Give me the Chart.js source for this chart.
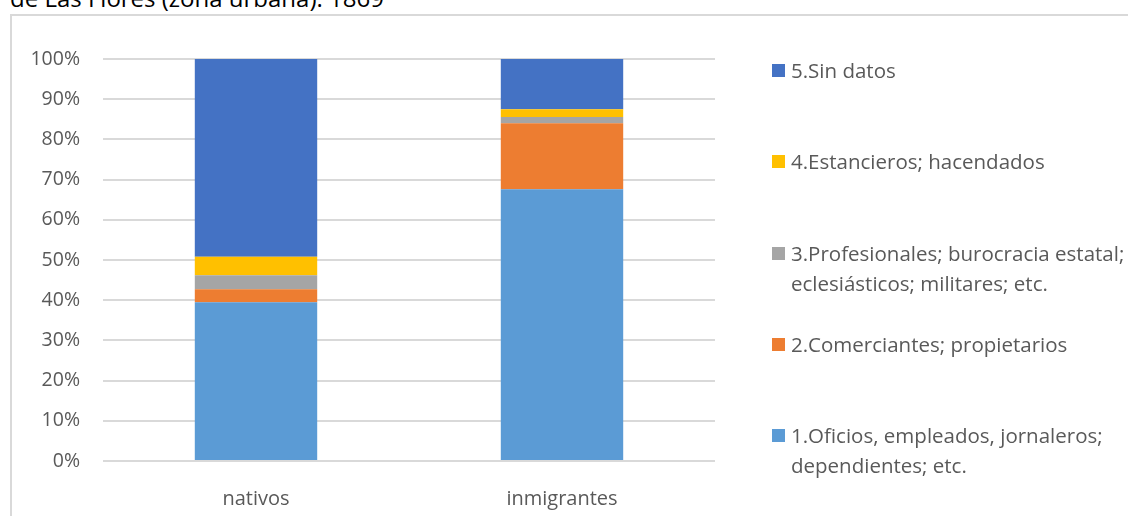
<!DOCTYPE html>
<html>
<head>
<meta charset="utf-8">
<script src="https://cdn.jsdelivr.net/npm/chart.js@4"></script>
<style>
  html, body { margin: 0; padding: 0; background: #fff; overflow: hidden; }
  body { width: 1128px; height: 516px; position: relative; font-family: "Open Sans", "Noto Sans", sans-serif; }
  #frame { position: absolute; left: 10px; top: 14px; width: 1300px; height: 700px; border: 2px solid #d9d9d9; box-sizing: border-box; }
  #title { position: absolute; left: 10px; top: -14px; font-size: 24px; line-height: 24px; color: #000; white-space: nowrap; }
  #wrap { position: absolute; left: 0; top: 0; width: 1128px; height: 516px; }
  #legend { position: absolute; left: 0; top: 0; }
  .item { position: absolute; left: 772px; font-size: 20.5px; line-height: 30px; color: #595959; white-space: nowrap; }
  .box { position: absolute; left: 0; width: 13px; height: 13px; }
  .txt { position: absolute; left: 19px; top: 0; }
</style>
</head>
<body>
<div id="frame"></div>
<div id="title">de Las Flores (zona urbana). 1869</div>
<div id="wrap"><canvas id="c" width="1128" height="516"></canvas></div>
<div id="legend"></div>
<script>
const categories = ['nativos', 'inmigrantes'];
const seriesNames = [
  ['1.Oficios, empleados, jornaleros;', 'dependientes; etc.'],
  ['2.Comerciantes; propietarios'],
  ['3.Profesionales; burocracia estatal;', 'eclesiásticos; militares; etc.'],
  ['4.Estancieros; hacendados'],
  ['5.Sin datos']
];
const oficios = [39.5, 67.6];
const comerciantes = [3.2, 16.4];
const profesionales = [3.5, 1.6];
const estancieros = [4.6, 1.9];
const sinDatos = [49.2, 12.5];
const seriesValues = [oficios, comerciantes, profesionales, estancieros, sinDatos];
const colors = ['#5B9BD5', '#ED7D31', '#A5A5A5', '#FFC000', '#4472C4'];
const yTicks = [0, 10, 20, 30, 40, 50, 60, 70, 80, 90, 100];

const FONT = 'Open Sans';
const chart = new Chart(document.getElementById('c'), {
  type: 'bar',
  data: {
    labels: categories,
    datasets: seriesValues.map((v, i) => ({
      label: seriesNames[i].join(' '),
      data: v,
      backgroundColor: colors[i],
      borderWidth: 0,
      categoryPercentage: 1,
      barPercentage: 0.4
    }))
  },
  options: {
    responsive: false,
    animation: false,
    devicePixelRatio: 1,
    layout: { padding: { left: 0, top: 59, right: 413, bottom: 0 } },
    plugins: { legend: { display: false }, tooltip: { enabled: false } },
    scales: {
      x: {
        stacked: true,
        grid: { display: false },
        border: { display: false },
        ticks: { color: '#595959', font: { family: FONT, size: 20 }, padding: 18 },
        afterFit: s => { s.height = 55; }
      },
      y: {
        stacked: true,
        min: 0, max: 100,
        afterBuildTicks: s => { s.ticks = yTicks.map(v => ({ value: v })); },
        grid: { color: '#d9d9d9', lineWidth: 2, drawTicks: false },
        border: { display: false },
        ticks: { color: '#595959', font: { family: FONT, size: 19.5 }, padding: 23, callback: v => v + '%' },
        afterFit: s => { s.width = 103; }
      }
    }
  }
});

// HTML legend built from the chart's datasets (reverse order, like the reference)
const legendTops = { 4: 55, 3: 146, 2: 237.5, 1: 329, 0: 420 };
const leg = document.getElementById('legend');
chart.data.datasets.forEach((ds, i) => {
  const item = document.createElement('div');
  item.className = 'item';
  item.style.top = legendTops[i] + 'px';
  const box = document.createElement('div');
  box.className = 'box';
  box.style.background = ds.backgroundColor;
  box.style.top = '9px';
  const txt = document.createElement('div');
  txt.className = 'txt';
  txt.innerHTML = seriesNames[i].join('<br>');
  item.appendChild(box);
  item.appendChild(txt);
  leg.appendChild(item);
});
</script>
</body>
</html>
